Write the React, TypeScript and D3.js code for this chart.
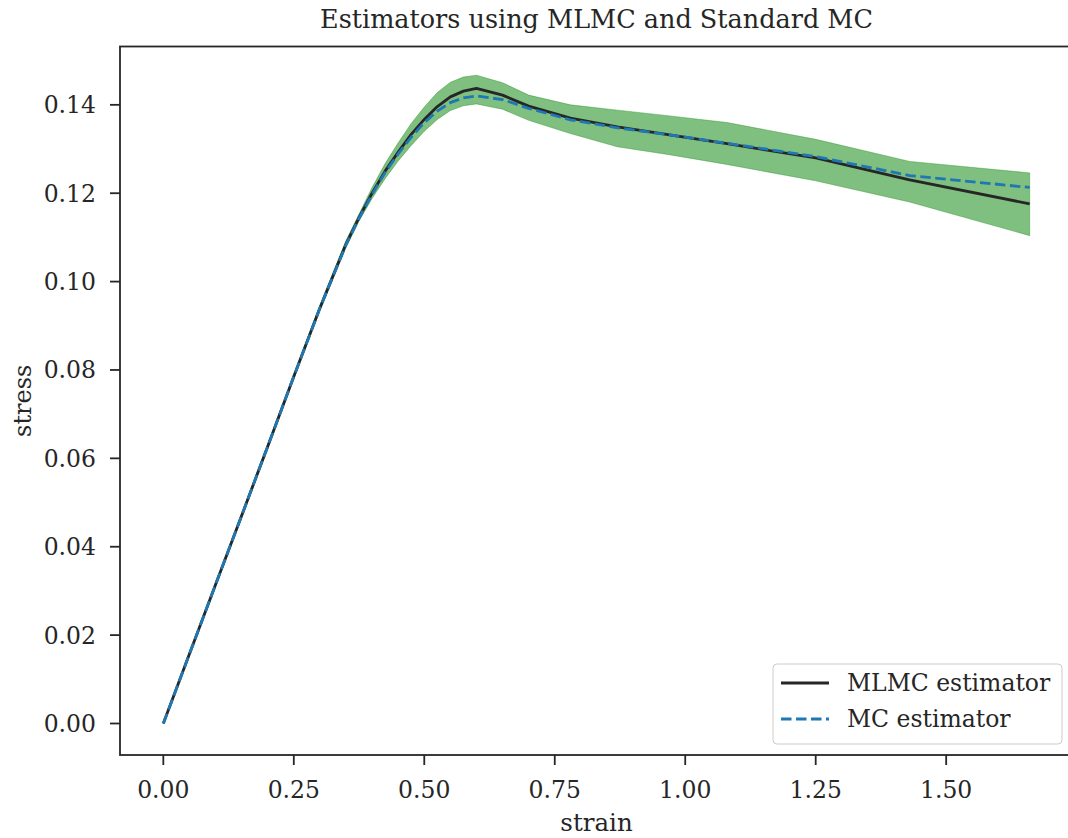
import React from "react";
import * as d3 from "d3";

const strain = [0, 0.05, 0.1, 0.15, 0.2, 0.25, 0.3, 0.35, 0.375, 0.4, 0.425, 0.45, 0.475, 0.5, 0.525, 0.55, 0.575, 0.6, 0.65, 0.7, 0.78, 0.87, 0.97, 1.08, 1.25, 1.43, 1.66];
const mlmc = [0, 0.0157, 0.0314, 0.047, 0.0627, 0.0785, 0.094, 0.1085, 0.1145, 0.12, 0.125, 0.1293, 0.1333, 0.1367, 0.1396, 0.1418, 0.1431, 0.1437, 0.1422, 0.1397, 0.137, 0.135, 0.1332, 0.1312, 0.128, 0.123, 0.1176];
const mc = [0, 0.0157, 0.0314, 0.047, 0.0627, 0.0785, 0.094, 0.1083, 0.1143, 0.1197, 0.1247, 0.1289, 0.1327, 0.136, 0.1386, 0.1405, 0.1416, 0.142, 0.1412, 0.1392, 0.1366, 0.1348, 0.1332, 0.1313, 0.1283, 0.124, 0.1213];
const upper = [0, 0.016, 0.0318, 0.0475, 0.0632, 0.079, 0.0946, 0.1093, 0.1153, 0.1213, 0.1267, 0.1314, 0.1358, 0.1395, 0.1428, 0.1451, 0.1463, 0.1467, 0.145, 0.1422, 0.14, 0.1388, 0.1375, 0.136, 0.1322, 0.1272, 0.1246];
const lower = [0, 0.0154, 0.031, 0.0465, 0.0622, 0.078, 0.0934, 0.1077, 0.1137, 0.1188, 0.1233, 0.1273, 0.1308, 0.134, 0.1367, 0.1387, 0.1398, 0.1402, 0.139, 0.1365, 0.1335, 0.1305, 0.1287, 0.1265, 0.1228, 0.118, 0.1104];
const xTicks = [0, 0.25, 0.5, 0.75, 1.0, 1.25, 1.5];
const yTicks = [0, 0.02, 0.04, 0.06, 0.08, 0.1, 0.12, 0.14];

const W = 1068, H = 838;
const L = 120, R = 1073, T = 46.5, B = 755;
const FONT = "DejaVu Serif";
const TXT = "#262626";
const TICK_FS = 23.5;
const LW = 2.8;
const DASH = "10.5,4.5";

export default function App() {
  const x = d3.scaleLinear().domain([-0.083, 1.743]).range([L, R]);
  const y = d3.scaleLinear().domain([-0.00713, 0.1532]).range([B, T]);
  const idx = strain.map((_, i) => i);
  const line = (arr: number[]) =>
    d3.line<number>().x((i) => x(strain[i])).y((i) => y(arr[i]))(idx) as string;
  const area = d3
    .area<number>()
    .x((i) => x(strain[i]))
    .y0((i) => y(lower[i]))
    .y1((i) => y(upper[i]))(idx) as string;

  return (
    <svg width={W} height={H} style={{ position: "absolute", left: 0, top: 0, background: "#fff" }} fontFamily={FONT}>
      <rect x={0} y={0} width={W} height={H} fill="#fff" />
      <path d={area} fill="green" fillOpacity={0.5} stroke="green" strokeOpacity={0.35} strokeWidth={1} />
      <path d={line(mlmc)} fill="none" stroke="#262626" strokeWidth={LW} strokeLinejoin="round" />
      <path d={line(mc)} fill="none" stroke="#1f77b4" strokeWidth={LW} strokeDasharray={DASH} />
      {/* spines */}
      <rect x={L} y={T} width={R - L} height={B - T} fill="none" stroke={TXT} strokeWidth={1.8} />
      {xTicks.map((t) => (
        <g key={"x" + t}>
          <line x1={x(t)} x2={x(t)} y1={B} y2={B + 10} stroke={TXT} strokeWidth={1.8} />
          <text x={x(t)} y={798} textAnchor="middle" fontSize={TICK_FS} fill={TXT}>
            {t.toFixed(2)}
          </text>
        </g>
      ))}
      {yTicks.map((t) => (
        <g key={"y" + t}>
          <line x1={L - 10} x2={L} y1={y(t)} y2={y(t)} stroke={TXT} strokeWidth={1.8} />
          <text x={96} y={y(t)} dy="0.36em" textAnchor="end" fontSize={TICK_FS} fill={TXT}>
            {t.toFixed(2)}
          </text>
        </g>
      ))}
      <text x={(L + R) / 2} y={28} textAnchor="middle" fontSize={25.5} fill={TXT}>
        Estimators using MLMC and Standard MC
      </text>
      <text x={(L + R) / 2} y={831} textAnchor="middle" fontSize={24.5} fill={TXT}>
        strain
      </text>
      <text transform={`translate(31,${(T + B) / 2}) rotate(-90)`} textAnchor="middle" fontSize={24} fill={TXT}>
        stress
      </text>
      {/* legend */}
      <rect x={773} y={664} width={289} height={80} rx={4} fill="#fff" fillOpacity={0.8} stroke="#cccccc" strokeWidth={1} />
      <line x1={781} x2={829} y1={683} y2={683} stroke="#262626" strokeWidth={LW} />
      <text x={847} y={683} dy="0.36em" fontSize={TICK_FS} fill={TXT}>MLMC estimator</text>
      <line x1={781} x2={829} y1={719} y2={719} stroke="#1f77b4" strokeWidth={LW} strokeDasharray={DASH} />
      <text x={847} y={719} dy="0.36em" fontSize={TICK_FS} fill={TXT}>MC estimator</text>
    </svg>
  );
}
